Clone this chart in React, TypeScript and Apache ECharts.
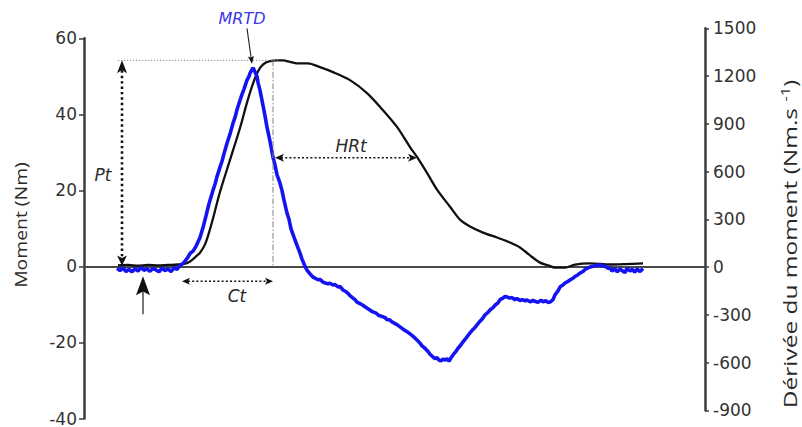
import React, { useEffect, useRef } from "react";
import * as echarts from "echarts";

// time axis (ms from window start), moment (Nm) and its derivative (Nm.s-1)
const timeRange: [number, number] = [0, 621];
const momentTicks = { min: -40, max: 60, interval: 20 };
const derivTicks = { min: -900, max: 1500, interval: 300 };

const momentTime = [34, 44, 54, 64, 74, 84, 94, 101, 106, 111, 116, 121, 125, 129, 136, 146, 156, 164, 171, 176, 181, 186, 193, 199, 206, 213, 224, 236, 249, 266, 283, 299, 313, 326, 333, 343, 353, 366, 376, 386, 399, 413, 426, 436, 446, 456, 464, 471, 481, 491, 506, 526, 541, 559];
const momentValue = [0.3, 0.4, 0.2, 0.4, 0.3, 0.4, 0.5, 0.7, 1.3, 2.4, 3.6, 5.8, 8.9, 12.6, 19.6, 28, 36.4, 44, 49.5, 52.2, 53.5, 54, 54.2, 54.2, 53.8, 53.4, 53.4, 52.4, 51.1, 49, 45.6, 41.1, 36.7, 31.4, 28.8, 24.6, 20.2, 15.7, 12.3, 10.5, 8.9, 7.6, 6.3, 5, 2.9, 1, 0.3, -0.3, -0.3, 0.5, 0.8, 0.5, 0.6, 0.8];

const derivTime = [33, 36, 39, 42, 45, 48, 51, 54, 57, 60, 63, 66, 69, 72, 75, 78, 81, 84, 87, 90, 93, 96, 99, 101, 104, 106, 109, 112, 116, 119, 122, 125, 129, 131, 133, 136, 138, 140, 143, 146, 149, 151, 153, 156, 158, 160, 163, 165, 166, 168, 169, 170, 171, 173, 174, 176, 178, 181, 183, 186, 189, 191, 193, 196, 198, 200, 203, 205, 207, 209, 211, 214, 216, 218, 221, 223, 225, 227, 229, 231, 234, 236, 239, 241, 244, 246, 249, 251, 254, 256, 259, 262, 264, 266, 269, 271, 273, 276, 279, 281, 284, 287, 289, 292, 295, 298, 301, 303, 306, 308, 311, 313, 316, 319, 321, 324, 327, 330, 333, 336, 338, 341, 344, 346, 349, 351, 353, 355, 357, 359, 361, 363, 365, 367, 369, 372, 374, 377, 379, 381, 384, 386, 389, 391, 394, 396, 399, 401, 404, 406, 409, 411, 414, 416, 419, 421, 423, 426, 428, 431, 433, 436, 438, 441, 443, 446, 449, 451, 454, 457, 459, 462, 464, 466, 469, 471, 474, 476, 479, 481, 484, 486, 489, 491, 494, 496, 499, 501, 504, 506, 509, 511, 514, 516, 518, 521, 524, 526, 528, 531, 533, 536, 538, 541, 543, 546, 548, 551, 553, 556, 559];
const derivValue = [-8, -22, -5, -28, -14, -30, -10, -25, -3, -20, -12, -27, -8, -18, -30, -6, -22, -12, -28, -5, -15, 10, 22, 38, 62, 85, 100, 130, 185, 248, 322, 398, 483, 520, 568, 628, 665, 712, 778, 835, 904, 940, 988, 1048, 1085, 1118, 1174, 1198, 1218, 1240, 1252, 1240, 1226, 1198, 1160, 1110, 1048, 950, 879, 790, 690, 640, 580, 527, 480, 420, 339, 300, 240, 205, 170, 120, 88, 50, 5, -20, -35, -50, -63, -70, -80, -78, -94, -100, -105, -102, -113, -110, -125, -122, -144, -155, -165, -180, -195, -205, -220, -230, -240, -250, -262, -275, -282, -290, -305, -310, -318, -330, -333, -345, -355, -362, -376, -390, -398, -410, -425, -440, -458, -478, -495, -510, -530, -548, -565, -575, -570, -584, -590, -578, -585, -575, -592, -570, -552, -530, -510, -488, -470, -455, -430, -414, -392, -380, -355, -340, -320, -300, -285, -270, -255, -240, -225, -205, -195, -185, -188, -195, -192, -205, -198, -210, -205, -212, -207, -218, -210, -215, -222, -208, -218, -212, -222, -220, -205, -175, -150, -125, -112, -100, -90, -82, -70, -60, -48, -38, -28, -15, -5, 0, 5, 8, 12, 13, 8, 5, -8, -6, -25, -10, -30, -12, -22, -35, -8, -25, -15, -32, -12, -28, -10];

// annotation anchors (data units)
const peakMoment = 54.2;
const peakTime = 189;
const onsetTime = 38;
const ctStartTime = 98;
const ctLevel = -3.9;
const hrtEndTime = 333;
const hrtLevel = 28.6;
const arrowTime = 59;
const mrtdTime = 168;

const AXIS = "#3c3c3c";
const BLUE = "#1414f2";
const FONT = "DejaVu Sans";

function head(tip: number[], dx: number, dy: number, len: number, hw: number, notch = 0.25, fill = "#111") {
  const bx = tip[0] - dx * len, by = tip[1] - dy * len;
  const nx = -dy, ny = dx;
  const mx = tip[0] - dx * len * (1 - notch), my = tip[1] - dy * len * (1 - notch);
  return {
    type: "polygon",
    shape: { points: [[tip[0], tip[1]], [bx + nx * hw, by + ny * hw], [mx, my], [bx - nx * hw, by - ny * hw]] },
    style: { fill },
    z: 100,
  };
}

function line(a: number[], b: number[], style: any) {
  return { type: "line", shape: { x1: a[0], y1: a[1], x2: b[0], y2: b[1] }, style: { fill: null, ...style }, z: 90 };
}

function label(p: number[], text: string, style: any) {
  return {
    type: "text",
    x: p[0],
    y: p[1],
    z: 100,
    style: { text, fontFamily: FONT, fontSize: 17, fontStyle: "italic", fill: "#2a2a2a", align: "center", verticalAlign: "middle", textAlign: "center", textVerticalAlign: "middle", ...style },
  };
}

export default function App() {
  const ref = useRef<HTMLDivElement>(null);
  useEffect(() => {
    if (!ref.current) return;
    const chart = echarts.init(ref.current, null, { renderer: "svg" });
    const tickLabel = { fontFamily: FONT, fontSize: 17, color: "#333", formatter: (v: number) => String(v) };
    chart.setOption({
      animation: false,
      backgroundColor: "#fff",
      grid: [
        { left: 84, right: 97, top: 38.3, bottom: 7.4 },
        { left: 84, right: 97, top: 28.3, bottom: 16.7 },
      ],
      xAxis: [
        { type: "value", gridIndex: 0, min: timeRange[0], max: timeRange[1], axisLine: { onZero: true, lineStyle: { color: "#4a4a4a", width: 2 } }, axisTick: { show: false }, axisLabel: { show: false }, splitLine: { show: false } },
        { type: "value", gridIndex: 1, min: timeRange[0], max: timeRange[1], show: false },
      ],
      yAxis: [
        { type: "value", gridIndex: 0, position: "left", min: momentTicks.min, max: momentTicks.max, interval: momentTicks.interval, axisLine: { show: true, onZero: false, lineStyle: { color: AXIS, width: 2.5 } }, axisTick: { show: true, length: 5, lineStyle: { color: AXIS, width: 1.5 } }, axisLabel: { ...tickLabel, margin: 7 }, splitLine: { show: false } },
        { type: "value", gridIndex: 1, position: "right", min: derivTicks.min, max: derivTicks.max, interval: derivTicks.interval, axisLine: { show: true, onZero: false, lineStyle: { color: AXIS, width: 2.5 } }, axisTick: { show: true, length: 4, lineStyle: { color: AXIS, width: 1.5 } }, axisLabel: { ...tickLabel, margin: 8 }, splitLine: { show: false } },
      ],
      series: [
        { type: "line", xAxisIndex: 0, yAxisIndex: 0, data: momentTime.map((t, i) => [t, momentValue[i]]), showSymbol: false, smooth: 0.3, lineStyle: { color: "#111", width: 2.3 }, z: 3 },
        { type: "line", xAxisIndex: 1, yAxisIndex: 1, data: derivTime.map((t, i) => [t, derivValue[i]]), showSymbol: false, lineStyle: { color: BLUE, width: 3.6 }, z: 4 },
      ],
    });

    const p0 = (t: number, v: number) => chart.convertToPixel({ gridIndex: 0 }, [t, v]) as number[];
    const p1 = (t: number, v: number) => chart.convertToPixel({ gridIndex: 1 }, [t, v]) as number[];

    const pk0 = p0(onsetTime - 4, peakMoment);
    const pk1 = p0(peakTime + 5, peakMoment);
    const vTop = p0(peakTime, peakMoment);
    const vBot = p0(peakTime, 0);
    const ptTop = p0(onsetTime, peakMoment);
    const ptBot = p0(onsetTime, 0);
    const ctA = p0(ctStartTime, ctLevel);
    const ctB = p0(peakTime, ctLevel);
    const hA = p0(peakTime + 2, hrtLevel);
    const hB = p0(hrtEndTime, hrtLevel);
    const upTip = p0(arrowTime, -2.6);
    const upBase = p0(arrowTime, -12.6);
    const mTip = p1(mrtdTime, 1275);
    const mStart = p1(mrtdTime - 5, 1500);
    const mdx = mTip[0] - mStart[0], mdy = mTip[1] - mStart[1];
    const mlen = Math.hypot(mdx, mdy);

    const dotted = { stroke: "#111", lineWidth: 1.6, lineDash: [2, 2.2] };
    const titleStyle = { fontFamily: "Open Sans", fill: "#2a2a2a", color: "#2a2a2a" };
    const graphic: any[] = [
      line(pk0, pk1, { stroke: "#8a8a8a", lineWidth: 1, lineDash: [1.2, 1.8] }),
      line(vTop, vBot, { stroke: "#808080", lineWidth: 1, lineDash: [6, 2, 1.5, 2] }),
      line([ptTop[0], ptTop[1] + 10], [ptBot[0], ptBot[1] - 8], { stroke: "#111", lineWidth: 2.6, lineDash: [2.4, 3] }),
      head(ptTop, 0, -1, 13, 5),
      head([ptBot[0], ptBot[1] - 1], 0, 1, 10, 5),
      line([ctA[0] + 6, ctA[1]], [ctB[0] - 6, ctB[1]], dotted),
      head(ctA, -1, 0, 8, 3.6),
      head(ctB, 1, 0, 8, 3.6),
      line([hA[0] + 6, hA[1]], [hB[0] - 6, hB[1]], dotted),
      head(hA, -1, 0, 9, 4),
      head(hB, 1, 0, 9, 4),
      line(upBase, [upTip[0], upTip[1] + 14], { stroke: "#555", lineWidth: 1.6 }),
      head(upTip, 0, -1, 19, 7, 0.2),
      line(mStart, [mTip[0] - (mdx / mlen) * 5, mTip[1] - (mdy / mlen) * 5], { stroke: "#222", lineWidth: 1.1 }),
      head(mTip, mdx / mlen, mdy / mlen, 8, 3, 0.2),
      label(p1(mrtdTime - 10, 1563), "MRTD", { fill: "#3838e8", fontSize: 16 }),
      label(p0(onsetTime - 19, 24.1), "Pt", {}),
      label(p0(267, 31.7), "HRt", {}),
      label(p0(153, -7.9), "Ct", {}),
      {
        type: "text", x: 20, y: 225, rotation: Math.PI / 2, scaleX: 1.14, z: 100,
        style: { text: "Moment (Nm)", ...titleStyle, fontSize: 17, align: "center", verticalAlign: "middle", textAlign: "center", textVerticalAlign: "middle" },
      },
      {
        type: "text", x: 790, y: 244, rotation: Math.PI / 2, scaleX: 1.36, z: 100,
        style: {
          text: "{a|Dérivée du moment (Nm.s }{b|-1}{a|)}",
          align: "center", verticalAlign: "middle", textAlign: "center", textVerticalAlign: "middle",
          rich: {
            a: { ...titleStyle, fontSize: 18, lineHeight: 22 },
            b: { ...titleStyle, fontSize: 12, lineHeight: 12, verticalAlign: "top" },
          },
        },
      },
    ];
    chart.setOption({ graphic });
    return () => chart.dispose();
  }, []);
  return <div ref={ref} style={{ position: "absolute", left: 0, top: 0, width: 802, height: 427, background: "#fff" }} />;
}
